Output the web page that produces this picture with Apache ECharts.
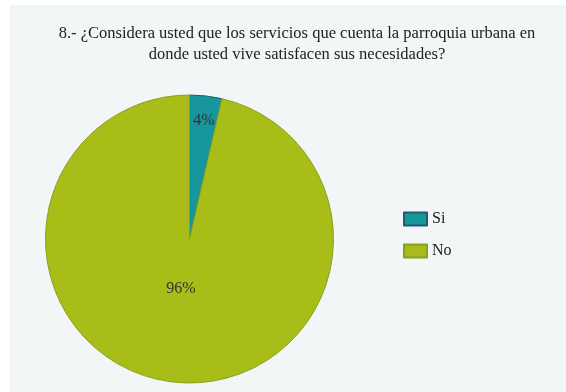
<!DOCTYPE html>
<html>
<head>
<meta charset="utf-8">
<script src="https://cdn.jsdelivr.net/npm/echarts@6/dist/echarts.min.js"></script>
<style>
  html, body { margin: 0; padding: 0; background: #ffffff; }
  #panel { position: absolute; left: 10px; top: 5px; width: 556px; height: 387px; background: #f2f6f6; }
  #chart { position: absolute; left: 0; top: 0; width: 566px; height: 392px; }
</style>
</head>
<body>
<div id="panel"></div>
<div id="chart"></div>
<script>
var titleText = '8.- ¿Considera usted que los servicios que cuenta la parroquia urbana en\ndonde usted vive satisfacen sus necesidades?';
var categories = ['Si', 'No'];
var values = [3.6, 96.4];
var colors = ['#17969e', '#a9bd19'];
var borders = ['#1f5c6c', '#86a01f'];

// ajuste de las etiquetas dentro de las porciones
var labelShift = [[6, -44], [0, -25]];

var myChart = echarts.init(document.getElementById('chart'));

var option = {
  backgroundColor: 'transparent',
  animation: false,
  title: {
    text: titleText,
    left: 297,
    top: 23,
    padding: 0,
    textAlign: 'center',
    textStyle: {
      fontFamily: 'Liberation Serif',
      fontSize: 16.5,
      fontWeight: 'normal',
      color: '#222222',
      lineHeight: 21
    }
  },
  legend: {
    orient: 'vertical',
    left: 398,
    top: 206,
    icon: 'rect',
    itemWidth: 23,
    itemHeight: 13,
    itemGap: 16,
    data: categories,
    textStyle: {
      fontFamily: 'Liberation Serif',
      fontSize: 16,
      color: '#222222'
    }
  },
  series: [{
    type: 'pie',
    center: [189.5, 239],
    radius: 144,
    startAngle: 90,
    clockwise: true,
    data: categories.map(function (c, i) {
      return {
        name: c,
        value: values[i],
        itemStyle: { color: colors[i], borderColor: borders[i], borderWidth: 1 }
      };
    }),
    label: {
      position: 'inside',
      formatter: function (p) { return Math.round(p.percent) + '%'; },
      fontFamily: 'Liberation Serif',
      fontSize: 16,
      color: '#333333'
    },
    labelLine: { show: false },
    labelLayout: function (p) {
      return { dx: labelShift[p.dataIndex][0], dy: labelShift[p.dataIndex][1] };
    },
    emphasis: { disabled: true }
  }]
};

myChart.setOption(option);
</script>
</body>
</html>
